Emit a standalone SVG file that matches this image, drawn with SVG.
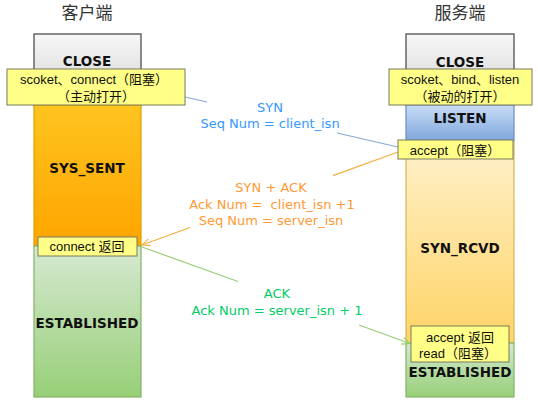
<svg xmlns="http://www.w3.org/2000/svg" width="538" height="406" viewBox="0 0 538 406">
<defs>
<linearGradient id="gGray" x1="0" y1="0" x2="0" y2="1"><stop offset="0" stop-color="#f7f7f7"/><stop offset="1" stop-color="#d2d2d2"/></linearGradient>
<linearGradient id="gOrange" x1="0" y1="0" x2="0" y2="1"><stop offset="0" stop-color="#ffc41f"/><stop offset="1" stop-color="#ffa500"/></linearGradient>
<linearGradient id="gBlue" x1="0" y1="0" x2="0" y2="1"><stop offset="0" stop-color="#c8ddf6"/><stop offset="1" stop-color="#7ea6dc"/></linearGradient>
<linearGradient id="gLight" x1="0" y1="0" x2="0" y2="1"><stop offset="0" stop-color="#fff1cc"/><stop offset="1" stop-color="#ffd466"/></linearGradient>
<linearGradient id="gGreen" x1="0" y1="0" x2="0" y2="1"><stop offset="0" stop-color="#d6e9d2"/><stop offset="1" stop-color="#97cf77"/></linearGradient>
<marker id="aOrange" viewBox="0 0 10 10" refX="9" refY="5" markerWidth="9" markerHeight="9" orient="auto" markerUnits="userSpaceOnUse"><path d="M0,1 L9,5 L0,9" fill="none" stroke="#f0b040" stroke-width="1.2"/></marker>
<marker id="aGreen" viewBox="0 0 10 10" refX="9" refY="5" markerWidth="9" markerHeight="9" orient="auto" markerUnits="userSpaceOnUse"><path d="M0,1 L9,5 L0,9" fill="none" stroke="#97cf77" stroke-width="1.2"/></marker>
</defs>
<style>
.title{font-family:"Noto Sans CJK SC","Noto Sans",sans-serif;font-size:17px;fill:#333;text-anchor:middle}
.state{font-family:"DejaVu Sans",sans-serif;font-weight:bold;font-size:13.5px;fill:#111;text-anchor:middle}
.lbl{font-family:"Liberation Sans","Noto Sans CJK SC",sans-serif;font-size:13px;fill:#111;text-anchor:middle}
.note{fill:#ffff88;stroke:#7a7a5c;stroke-width:1}
.msg{font-family:"DejaVu Sans",sans-serif;font-size:13px;text-anchor:middle}
.gray{fill:url(#gGray);stroke:#666;stroke-width:1.5}
.orange{fill:url(#gOrange);stroke:#e0a000;stroke-width:1.2}
.blue{fill:url(#gBlue);stroke:#6c8ebf;stroke-width:1.2}
.light{fill:url(#gLight);stroke:#d6b656;stroke-width:1.2}
.green{fill:url(#gGreen);stroke:#82b366;stroke-width:1.2}
</style>
<rect width="538" height="406" fill="#fff"/>
<text class="title" x="87" y="19">客户端</text>
<text class="title" x="460" y="19">服务端</text>

<g id="client">
<rect id="c-close" class="gray" x="34" y="34" width="107" height="71"/>
<rect id="c-sent" class="orange" x="34" y="105" width="107" height="141"/>
<rect id="c-est" class="green" x="34" y="246" width="107" height="151"/>
<text class="state" x="87" y="66">CLOSE</text>
<text class="state" x="87" y="173">SYS_SENT</text>
<text class="state" x="87" y="328">ESTABLISHED</text>
</g>

<g id="server">
<rect id="s-close" class="gray" x="406" y="34" width="108" height="71"/>
<rect id="s-listen" class="blue" x="406" y="105" width="108" height="36"/>
<rect id="s-rcvd" class="light" x="406" y="141" width="108" height="202"/>
<rect id="s-est" class="green" x="406" y="343" width="108" height="54"/>
<text class="state" x="460" y="67">CLOSE</text>
<text class="state" x="460" y="123">LISTEN</text>
<text class="state" x="460" y="253">SYN_RCVD</text>
<text class="state" x="460" y="377">ESTABLISHED</text>
</g>

<g id="connectors" fill="none" stroke-width="1.2">
<path id="syn" d="M185,97 L207,102 M337,133 L398,147" stroke="#8aa8d6"/>
<path id="synack-a" d="M398,152 L333,175.6" stroke="#f0b040"/>
<path id="synack-b" d="M190,227.5 L142,245" stroke="#f0b040" marker-end="url(#aOrange)"/>
<path id="ack-a" d="M142,247 L238,281.5" stroke="#97cf77"/>
<path id="ack-b" d="M359,325 L410,343.5" stroke="#97cf77" marker-end="url(#aGreen)"/>
</g>

<g id="msg-syn" class="msg" fill="#3399ff">
<text x="270" y="112">SYN</text>
<text x="270" y="128">Seq Num = client_isn</text>
</g>
<g id="msg-synack" class="msg" fill="#ff9933">
<text x="271" y="192">SYN + ACK</text>
<text x="272" y="209" xml:space="preserve">Ack Num =  client_isn +1</text>
<text x="271" y="225">Seq Num = server_isn</text>
</g>
<g id="msg-ack" class="msg" fill="#00cc66">
<text x="277" y="298">ACK</text>
<text x="277" y="315">Ack Num = server_isn + 1</text>
</g>

<g id="note-client-open">
<rect class="note" x="7" y="69" width="178" height="36"/>
<text class="lbl" x="94" y="84">scoket、connect（阻塞）</text>
<text class="lbl" x="96" y="101">（主动打开）</text>
</g>
<g id="note-connect-return">
<rect class="note" x="38" y="237" width="99" height="19"/>
<text class="lbl" x="87" y="251">connect 返回</text>
</g>
<g id="note-server-open">
<rect class="note" x="389" y="69" width="143" height="36"/>
<text class="lbl" x="460" y="84">scoket、bind、listen</text>
<text class="lbl" x="460" y="101">（被动的打开）</text>
</g>
<g id="note-accept">
<rect class="note" x="398" y="140" width="115" height="19"/>
<text class="lbl" x="455" y="155">accept（阻塞）</text>
</g>
<g id="note-accept-return">
<rect class="note" x="411" y="326" width="98" height="36"/>
<text class="lbl" x="460" y="342">accept 返回</text>
<text class="lbl" x="458" y="358">read（阻塞）</text>
</g>
</svg>
